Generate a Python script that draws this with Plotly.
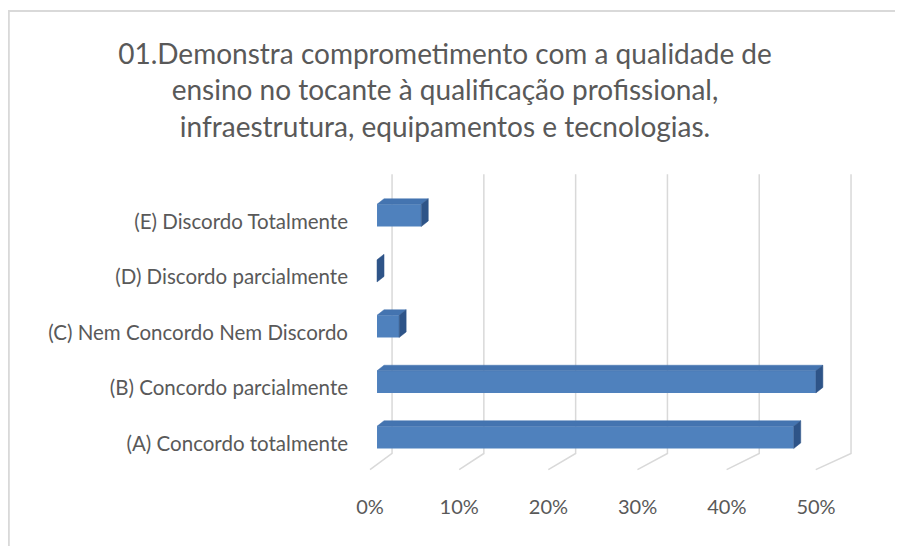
import plotly.graph_objects as go

# ---- data ----
categories = ["(A) Concordo totalmente", "(B) Concordo parcialmente",
              "(C) Nem Concordo Nem Discordo", "(D) Discordo parcialmente",
              "(E) Discordo Totalmente"]
values = [0.452, 0.476, 0.024, 0.0, 0.048]
tick_vals = [0, 0.1, 0.2, 0.3, 0.4, 0.5]
tick_text = ["0%", "10%", "20%", "30%", "40%", "50%"]
title_text = ("01.Demonstra comprometimento com a qualidade de<br>"
              "ensino no tocante à qualificação profissional,<br>"
              "infraestrutura, equipamentos e tecnologias.")

# ---- styling / pseudo-3D geometry ----
# figure drawn inside page body (8px default body margin)
W, H = 895, 538
ML, MR, MT, MB = 315, 31, 162.6, 67.4
XR = [-0.0586, 0.5369]      # bar plane (depth of bar fronts)
XR_FRONT = [-0.0527, 0.5628]  # front floor edge where tick labels sit
YR = [-0.75, 4.8]
BAR_W = 0.4
DX, DY = 0.0076, 0.10          # depth offset of bar faces (data units)
FRONT = "#4F81BD"
TOP = "#4474B0"
SIDE = "#2E5488"
GRID = "#D9D9D9"
TXT = "#595959"
FONT = "Lato"

idx = list(range(len(categories)))

fig = go.Figure()

# front faces
fig.add_trace(go.Bar(x=values, y=idx, orientation="h", width=BAR_W,
                     marker=dict(color=FRONT, line=dict(width=0)),
                     showlegend=False, hoverinfo="skip"))

# top and side faces
tx, ty, sx, sy = [], [], [], []
h = BAR_W / 2
for i, v in zip(idx, values):
    if v > 0:
        tx += [0, v, v + DX, DX, 0, None]
        ty += [i + h, i + h, i + h + DY, i + h + DY, i + h, None]
    sx += [v, v, v + DX, v + DX, v, None]
    sy += [i - h, i + h, i + h + DY, i - h + DY, i - h, None]
fig.add_trace(go.Scatter(x=tx, y=ty, fill="toself", fillcolor=TOP, mode="lines",
                         line=dict(width=0.5, color=TOP),
                         hoverinfo="skip", showlegend=False))
fig.add_trace(go.Scatter(x=sx, y=sy, fill="toself", fillcolor=SIDE, mode="lines",
                         line=dict(width=0.5, color=SIDE),
                         hoverinfo="skip", showlegend=False))

# carrier for the front-edge percentage axis (invisible)
fig.add_trace(go.Scatter(x=tick_vals, y=[None] * len(tick_vals), xaxis="x2",
                         mode="lines", opacity=0, hoverinfo="skip",
                         showlegend=False))

pw = W - ML - MR
ph = H - MT - MB

def px_x(p):
    return (p - ML) / pw

def px_y(q):
    return (H - MB - q) / ph

# gridlines on back wall with floor diagonal (behind bars)
shapes = []
for v in tick_vals:
    xb = v * 0.9957 + 0.0163
    xf = v * 0.967 - 0.0076
    shapes.append(dict(type="path", xref="x", yref="y", layer="below",
                       path=f"M {xb},4.74 L {xb},-0.29 L {xf},-0.58",
                       line=dict(color=GRID, width=1.5)))

shapes += [
    dict(type="line", xref="paper", yref="paper",
         x0=px_x(0), x1=px_x(W), y0=px_y(2.5), y1=px_y(2.5),
         line=dict(color="#D9D9D9", width=2)),
    dict(type="line", xref="paper", yref="paper",
         x0=px_x(0.8), x1=px_x(0.8), y0=px_y(2.5), y1=px_y(H),
         line=dict(color="#D9D9D9", width=2)),
]

fig.update_layout(
    width=W, height=H,
    margin=dict(l=ML, r=MR, t=MT, b=MB, pad=0, autoexpand=False),
    paper_bgcolor="white", plot_bgcolor="white",
    font=dict(family=FONT, color=TXT),
    title=dict(text=title_text, x=437 / W, xref="container", xanchor="center",
               y=1 - 56 / H, yref="container", yanchor="top", automargin=False,
               font=dict(family=FONT, size=28, color=TXT)),
    xaxis=dict(range=XR, showticklabels=False,
               showgrid=False, zeroline=False, showline=False, automargin=False,
               ticks="", fixedrange=True),
    xaxis2=dict(range=XR_FRONT, overlaying="x", side="bottom", anchor="y",
                tickvals=tick_vals, ticktext=tick_text,
                showgrid=False, zeroline=False, showline=False, automargin=False,
                ticks="", ticklabelstandoff=14,
                tickfont=dict(size=20, color=TXT, family=FONT), fixedrange=True),
    yaxis=dict(range=YR, tickvals=idx, ticktext=categories,
               showgrid=False, zeroline=False, showline=False, ticks="",
               automargin=False,
               anchor="free", position=25 / pw, ticklabelstandoff=0,
               ticklabelshift=6,
               tickfont=dict(size=20.5, color=TXT, family=FONT), fixedrange=True),
    shapes=shapes,
)

fig.write_html("out.html")
